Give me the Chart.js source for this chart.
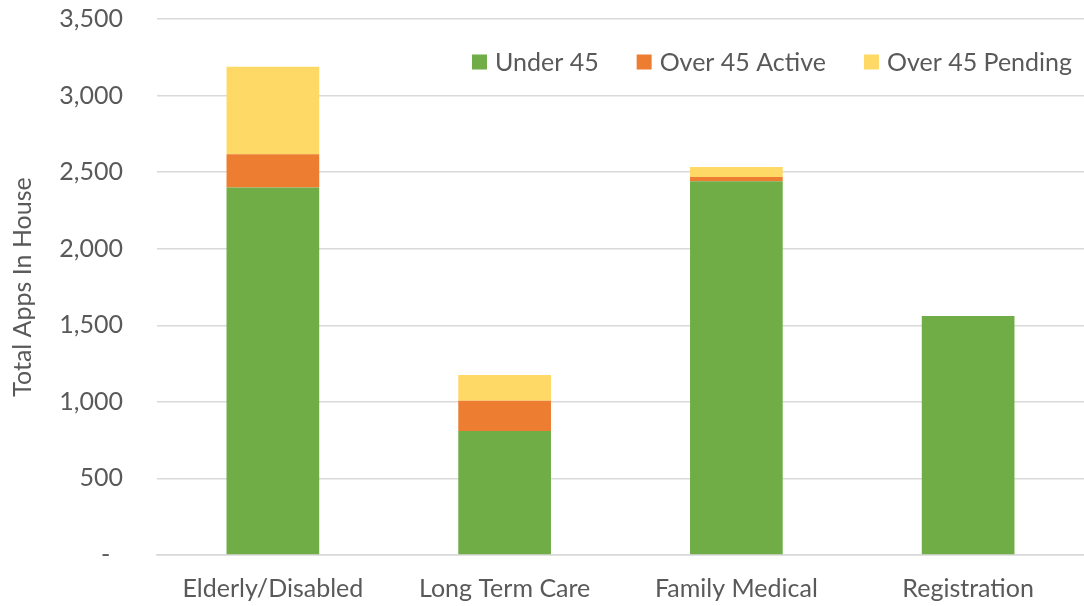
<!DOCTYPE html>
<html>
<head>
<meta charset="utf-8">
<script src="https://cdn.jsdelivr.net/npm/chart.js@4/dist/chart.umd.min.js"></script>
<style>
  html, body { margin: 0; padding: 0; background: #ffffff; }
  #wrap { width: 1084px; height: 606px; position: relative; }
</style>
</head>
<body>
<div id="wrap"><canvas id="chart" width="1084" height="606"></canvas></div>
<script>
// Application counts by program
const categories = ['Elderly/Disabled', 'Long Term Care', 'Family Medical', 'Registration'];
const under45 = [2400, 810, 2440, 1560];
const over45Active = [217, 198, 28, 0];
const over45Pending = [572, 167, 66, 0];
const seriesNames = ['Under 45', 'Over 45 Active', 'Over 45 Pending'];
const yTicks = [0, 500, 1000, 1500, 2000, 2500, 3000, 3500];

const FONT = 'Lato, "Open Sans", sans-serif';
const SIZE = 25;
const TEXT = '#595959';
const GRID = '#d9d9d9';

// Legend drawn inside the plot area, right-aligned near the top
const innerLegend = {
  id: 'innerLegend',
  afterDraw(chart) {
    const ctx = chart.ctx;
    const area = chart.chartArea;
    const box = 15, gap = 8, spacing = 38;
    const y = 62;
    ctx.save();
    ctx.font = SIZE + 'px ' + FONT;
    ctx.textBaseline = 'middle';
    const items = chart.data.datasets.map(d => ({
      label: d.label, color: d.backgroundColor,
      w: box + gap + ctx.measureText(d.label).width
    }));
    const total = items.reduce((s, it) => s + it.w, 0) + spacing * (items.length - 1);
    let x = area.right - 12 - total;
    items.forEach(it => {
      ctx.fillStyle = it.color;
      ctx.fillRect(x, y - box / 2, box, box);
      ctx.fillStyle = TEXT;
      ctx.textAlign = 'left';
      ctx.fillText(it.label, x + box + gap, y + 1);
      x += it.w + spacing;
    });
    ctx.restore();
  }
};

new Chart(document.getElementById('chart'), {
  type: 'bar',
  data: {
    labels: categories,
    datasets: [
      { label: seriesNames[0], data: under45, backgroundColor: '#70ad47' },
      { label: seriesNames[1], data: over45Active, backgroundColor: '#ed7d31' },
      { label: seriesNames[2], data: over45Pending, backgroundColor: '#ffd966' }
    ]
  },
  options: {
    responsive: false,
    animation: false,
    devicePixelRatio: 1,
    layout: { padding: { top: 19, right: 0, left: 0, bottom: 0 } },
    plugins: {
      legend: { display: false },
      tooltip: { enabled: false }
    },
    datasets: {
      bar: { categoryPercentage: 1.0, barPercentage: 0.4, borderWidth: 0 }
    },
    scales: {
      x: {
        stacked: true,
        grid: { display: false },
        border: { display: true, color: GRID, width: 1.5 },
        ticks: { color: TEXT, font: { family: FONT, size: SIZE }, padding: 11, maxRotation: 0 },
        afterFit(s) { s.height = 51; }
      },
      y: {
        stacked: true,
        min: 0,
        max: 3500,
        afterBuildTicks(s) { s.ticks = yTicks.map(v => ({ value: v })); },
        grid: { color: GRID, lineWidth: 1.5, drawTicks: false },
        border: { display: false },
        ticks: {
          color: TEXT,
          font: { family: FONT, size: SIZE },
          padding: 34,
          callback: v => v === 0 ? '-  ' : v.toLocaleString('en-US')
        },
        title: {
          display: true,
          text: 'Total Apps In House',
          color: TEXT,
          font: { family: FONT, size: SIZE },
          padding: { top: 8, bottom: 0 }
        },
        afterFit(s) {
          s.width = 157;
          s.paddingTop = 0;
          s.paddingBottom = 0;
        }
      }
    }
  },
  plugins: [innerLegend]
});
</script>
</body>
</html>
